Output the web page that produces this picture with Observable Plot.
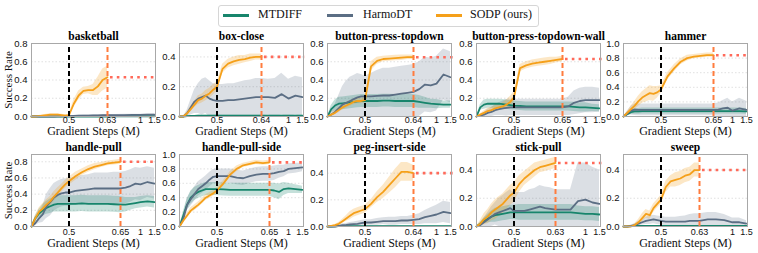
<!DOCTYPE html>
<html><head><meta charset="utf-8">
<script src="https://cdn.jsdelivr.net/npm/d3@7"></script>
<script src="https://cdn.jsdelivr.net/npm/@observablehq/plot@0.6"></script>
<style>
body{margin:0;background:#fff;}
#root{position:relative;width:758px;height:253px;overflow:hidden;background:#fff;}
.legend{position:absolute;left:218px;top:5px;width:321px;height:22px;border:1px solid #d6d6d6;border-radius:3px;box-sizing:border-box;}
.lg-line{position:absolute;top:14px;height:3px;width:26px;}
.lg-text{position:absolute;top:7px;font-family:"Liberation Serif","Times New Roman","DejaVu Serif",serif;font-size:12px;line-height:15px;color:#111;}
</style></head>
<body><div id="root"></div>
<script>
// ---------- data ----------
const tasks = ["basketball","box-close","button-press-topdown","button-press-topdown-wall","hammer",
               "handle-pull","handle-pull-side","peg-insert-side","stick-pull","sweep"];
const switchStep = [0.63,0.64,0.64,0.65,0.65,0.65,0.65,0.64,0.63,0.63]; // orange dashed line (M steps)
const yMax = [0.8,0.49,0.8,0.8,1.0,0.89,1.0,0.54,0.51,0.51];
const yTickSets = [[0,0.2,0.4,0.6,0.8],[0,0.2,0.4],[0,0.2,0.4,0.6,0.8],[0,0.2,0.4,0.6,0.8],[0,0.2,0.4,0.6,0.8,1.0],
                   [0,0.2,0.4,0.6,0.8],[0,0.2,0.4,0.6,0.8,1.0],[0,0.2,0.4],[0,0.2,0.4],[0,0.2,0.4]];
const seriesNames = ["MTDIFF","HarmoDT","SODP (ours)"];

// SODP mean / std (samples from 0 up to the switch step)
const sodpMean = [
 [0,0,0.005,0.01,0.015,0.02,0.02,0.02,0.015,0.01,0.015,0.14,0.23,0.28,0.29,0.29,0.33,0.40,0.43],
 [0,0,0.02,0.05,0.08,0.11,0.12,0.14,0.155,0.18,0.20,0.32,0.355,0.37,0.38,0.385,0.395,0.40,0.40],
 [0,0.02,0.04,0.07,0.10,0.12,0.14,0.16,0.17,0.17,0.18,0.55,0.61,0.63,0.635,0.64,0.645,0.65,0.65],
 [0,0.02,0.04,0.06,0.07,0.09,0.10,0.11,0.13,0.16,0.21,0.53,0.56,0.58,0.59,0.60,0.61,0.62,0.63],
 [0,0.05,0.10,0.15,0.21,0.26,0.29,0.32,0.31,0.33,0.37,0.55,0.66,0.75,0.80,0.82,0.83,0.84,0.84],
 [0,0.10,0.18,0.22,0.27,0.31,0.37,0.42,0.47,0.52,0.56,0.62,0.67,0.71,0.74,0.76,0.78,0.79,0.80],
 [0,0.08,0.15,0.22,0.26,0.30,0.35,0.40,0.43,0.46,0.50,0.60,0.72,0.80,0.85,0.87,0.89,0.88,0.89],
 [0,0.005,0.01,0.02,0.04,0.06,0.08,0.10,0.11,0.12,0.13,0.17,0.22,0.26,0.31,0.36,0.41,0.41,0.40],
 [0,0.02,0.05,0.07,0.10,0.12,0.14,0.16,0.19,0.22,0.24,0.30,0.34,0.37,0.40,0.42,0.43,0.44,0.45],
 [0,0,0,0.01,0.03,0.06,0.09,0.08,0.13,0.16,0.19,0.28,0.32,0.33,0.34,0.36,0.37,0.40,0.40]
];
const sodpStd = [
 [0,0.005,0.005,0.01,0.01,0.01,0.01,0.01,0.01,0.01,0.01,0.04,0.05,0.04,0.04,0.06,0.10,0.12,0.12],
 [0,0,0.01,0.02,0.02,0.03,0.03,0.035,0.035,0.035,0.03,0.03,0.03,0.03,0.03,0.025,0.025,0.02,0.02],
 [0,0.01,0.02,0.03,0.03,0.03,0.03,0.03,0.03,0.03,0.03,0.05,0.04,0.03,0.03,0.03,0.03,0.025,0.025],
 [0,0.01,0.02,0.03,0.03,0.03,0.03,0.04,0.05,0.06,0.06,0.04,0.04,0.04,0.04,0.04,0.04,0.03,0.03],
 [0,0.02,0.04,0.06,0.07,0.08,0.09,0.10,0.10,0.08,0.05,0.05,0.05,0.04,0.04,0.03,0.03,0.03,0.03],
 [0,0.03,0.05,0.06,0.06,0.06,0.06,0.06,0.05,0.05,0.05,0.05,0.04,0.04,0.04,0.03,0.03,0.03,0.03],
 [0,0.02,0.03,0.04,0.04,0.04,0.04,0.04,0.04,0.04,0.04,0.04,0.04,0.04,0.03,0.03,0.03,0.03,0.03],
 [0,0,0.005,0.01,0.015,0.02,0.03,0.03,0.03,0.03,0.03,0.03,0.04,0.05,0.06,0.07,0.07,0.07,0.06],
 [0,0.02,0.04,0.05,0.06,0.07,0.07,0.07,0.07,0.07,0.07,0.06,0.05,0.05,0.05,0.04,0.04,0.04,0.04],
 [0,0,0,0.01,0.02,0.03,0.03,0.03,0.03,0.03,0.03,0.04,0.04,0.05,0.05,0.05,0.05,0.05,0.05]
];
// MTDIFF mean / std (samples from 0 to 1.5)
const mtdiffMean = [
 [0,0,0,0,0,0,0,0,0,0,0,0,0,0,0,0,0,0,0,0.003,0.003,0.003,0.003,0.003,0.003],
 [0,0,0.003,0.004,0.004,0.005,0.005,0.005,0.005,0.005,0.005,0.005,0.005,0.005,0.005,0.005,0.005,0.005,0.005,0.006,0.006,0.006,0.006,0.006,0.006],
 [0,0.08,0.12,0.14,0.145,0.15,0.155,0.16,0.165,0.17,0.17,0.17,0.17,0.175,0.175,0.17,0.17,0.17,0.17,0.16,0.15,0.14,0.135,0.13,0.13],
 [0,0.10,0.13,0.14,0.14,0.14,0.14,0.135,0.13,0.125,0.12,0.115,0.11,0.11,0.11,0.11,0.11,0.11,0.11,0.11,0.105,0.10,0.10,0.095,0.09],
 [0,0.03,0.06,0.07,0.07,0.075,0.075,0.075,0.075,0.075,0.075,0.075,0.075,0.075,0.075,0.075,0.075,0.075,0.075,0.075,0.075,0.075,0.075,0.075,0.07],
 [0,0.10,0.16,0.20,0.23,0.25,0.27,0.28,0.28,0.28,0.28,0.28,0.285,0.28,0.28,0.28,0.28,0.275,0.27,0.27,0.28,0.29,0.30,0.31,0.30],
 [0,0.15,0.30,0.40,0.45,0.48,0.50,0.52,0.52,0.52,0.52,0.515,0.51,0.51,0.51,0.51,0.51,0.51,0.51,0.50,0.48,0.52,0.53,0.52,0.51],
 [0,0,0.002,0.003,0.003,0.003,0.003,0.003,0.003,0.003,0.003,0.003,0.003,0.003,0.003,0.003,0.003,0.003,0.003,0.003,0.003,0.003,0.003,0.003,0.003],
 [0,0.02,0.04,0.055,0.07,0.08,0.085,0.09,0.095,0.10,0.10,0.10,0.10,0.10,0.10,0.10,0.10,0.10,0.10,0.10,0.10,0.095,0.09,0.09,0.085],
 [0,0,0.003,0.004,0.004,0.004,0.004,0.004,0.004,0.004,0.004,0.004,0.004,0.004,0.004,0.004,0.004,0.004,0.004,0.004,0.004,0.004,0.004,0.004,0.004]
];
const mtdiffStd = [
 [0,0,0,0,0,0,0,0,0,0,0,0,0,0,0,0,0,0,0,0.003,0.003,0.003,0.003,0.003,0.003],
 [0,0,0.003,0.003,0.003,0.003,0.003,0.003,0.003,0.003,0.003,0.003,0.003,0.003,0.003,0.003,0.003,0.003,0.003,0.003,0.003,0.003,0.003,0.003,0.003],
 [0,0.04,0.06,0.07,0.07,0.07,0.07,0.07,0.07,0.07,0.07,0.07,0.07,0.07,0.07,0.07,0.07,0.07,0.07,0.07,0.06,0.05,0.05,0.04,0.04],
 [0,0.03,0.05,0.05,0.05,0.05,0.05,0.05,0.05,0.05,0.05,0.05,0.05,0.05,0.05,0.05,0.05,0.05,0.05,0.05,0.05,0.05,0.05,0.04,0.04],
 [0,0.02,0.03,0.04,0.04,0.04,0.04,0.04,0.04,0.04,0.04,0.04,0.04,0.04,0.04,0.04,0.04,0.04,0.04,0.04,0.04,0.04,0.04,0.04,0.04],
 [0,0.03,0.05,0.07,0.08,0.09,0.09,0.10,0.10,0.10,0.10,0.10,0.10,0.10,0.10,0.10,0.10,0.10,0.10,0.09,0.08,0.07,0.07,0.07,0.07],
 [0,0.05,0.08,0.09,0.09,0.09,0.09,0.09,0.09,0.09,0.09,0.09,0.09,0.09,0.09,0.09,0.09,0.09,0.09,0.10,0.11,0.09,0.07,0.06,0.05],
 [0,0,0.002,0.002,0.002,0.002,0.002,0.002,0.002,0.002,0.002,0.002,0.002,0.002,0.002,0.002,0.002,0.002,0.002,0.002,0.002,0.002,0.002,0.002,0.002],
 [0,0.01,0.02,0.03,0.04,0.05,0.05,0.05,0.05,0.05,0.05,0.055,0.055,0.055,0.055,0.055,0.055,0.055,0.055,0.055,0.055,0.05,0.05,0.05,0.05],
 [0,0,0.003,0.003,0.003,0.003,0.003,0.003,0.003,0.003,0.003,0.003,0.003,0.003,0.003,0.003,0.003,0.003,0.003,0.003,0.003,0.003,0.003,0.003,0.003]
];
// HarmoDT mean / std (samples from 0 to 1.5)
const harmoMean = [
 [0,0,0,0,0,0,0,0.002,0.003,0.004,0.005,0.006,0.008,0.01,0.01,0.012,0.012,0.014,0.015,0.015,0.016,0.018,0.018,0.02,0.02],
 [0,0,0.02,0.06,0.10,0.12,0.13,0.14,0.12,0.11,0.105,0.105,0.11,0.11,0.115,0.12,0.125,0.13,0.13,0.13,0.125,0.15,0.12,0.14,0.13],
 [0,0.02,0.05,0.09,0.13,0.15,0.17,0.19,0.21,0.22,0.22,0.22,0.225,0.23,0.23,0.24,0.25,0.26,0.27,0.30,0.35,0.34,0.36,0.46,0.43],
 [0,0.01,0.02,0.04,0.05,0.07,0.08,0.09,0.095,0.10,0.10,0.10,0.10,0.10,0.10,0.10,0.10,0.10,0.10,0.11,0.15,0.17,0.18,0.18,0.18],
 [0,0.04,0.08,0.095,0.09,0.09,0.09,0.09,0.09,0.09,0.09,0.09,0.09,0.09,0.09,0.09,0.09,0.09,0.09,0.095,0.11,0.12,0.08,0.11,0.09],
 [0,0.04,0.10,0.15,0.25,0.30,0.36,0.39,0.41,0.42,0.42,0.44,0.45,0.46,0.47,0.47,0.47,0.47,0.47,0.48,0.50,0.53,0.52,0.55,0.53],
 [0,0.10,0.30,0.38,0.45,0.52,0.56,0.60,0.65,0.69,0.70,0.70,0.70,0.68,0.67,0.70,0.72,0.73,0.73,0.74,0.76,0.77,0.80,0.81,0.82],
 [0,0,0,0.005,0.01,0.012,0.015,0.018,0.02,0.025,0.03,0.03,0.035,0.04,0.04,0.04,0.045,0.045,0.05,0.055,0.07,0.08,0.09,0.11,0.10],
 [0,0.01,0.03,0.05,0.07,0.09,0.10,0.11,0.12,0.13,0.11,0.11,0.11,0.12,0.13,0.14,0.13,0.125,0.12,0.12,0.12,0.18,0.19,0.17,0.16],
 [0,0,0.005,0.01,0.02,0.03,0.04,0.045,0.05,0.045,0.04,0.035,0.035,0.035,0.035,0.035,0.04,0.04,0.04,0.05,0.05,0.045,0.03,0.03,0.02]
];
const harmoStd = [
 [0,0,0,0,0,0,0,0.002,0.003,0.004,0.005,0.006,0.007,0.008,0.008,0.008,0.008,0.008,0.008,0.008,0.008,0.008,0.008,0.008,0.008],
 [0,0,0.02,0.05,0.08,0.10,0.12,0.12,0.12,0.11,0.11,0.11,0.11,0.11,0.115,0.12,0.12,0.125,0.125,0.12,0.13,0.14,0.13,0.13,0.13],
 [0,0.03,0.08,0.14,0.20,0.24,0.26,0.26,0.26,0.24,0.22,0.25,0.28,0.30,0.30,0.30,0.30,0.30,0.30,0.30,0.30,0.30,0.30,0.28,0.28],
 [0,0.01,0.02,0.04,0.05,0.06,0.07,0.08,0.09,0.09,0.09,0.09,0.09,0.09,0.09,0.09,0.09,0.09,0.09,0.10,0.13,0.14,0.14,0.14,0.13],
 [0,0.03,0.06,0.08,0.08,0.08,0.08,0.08,0.08,0.08,0.08,0.08,0.08,0.08,0.08,0.08,0.08,0.08,0.08,0.09,0.11,0.13,0.12,0.14,0.12],
 [0,0.03,0.06,0.10,0.15,0.17,0.17,0.17,0.17,0.17,0.17,0.17,0.18,0.18,0.19,0.19,0.19,0.20,0.20,0.20,0.20,0.20,0.20,0.19,0.19],
 [0,0.05,0.08,0.10,0.10,0.10,0.10,0.10,0.10,0.10,0.10,0.10,0.10,0.10,0.10,0.10,0.10,0.10,0.10,0.10,0.09,0.08,0.07,0.07,0.06],
 [0,0,0,0.005,0.01,0.01,0.015,0.015,0.02,0.02,0.02,0.02,0.025,0.025,0.03,0.03,0.03,0.03,0.035,0.04,0.05,0.06,0.07,0.08,0.08],
 [0,0.01,0.03,0.05,0.07,0.08,0.10,0.11,0.12,0.13,0.13,0.13,0.13,0.14,0.14,0.15,0.15,0.15,0.14,0.14,0.14,0.27,0.26,0.25,0.24],
 [0,0,0.005,0.01,0.015,0.02,0.025,0.03,0.03,0.03,0.03,0.03,0.03,0.03,0.035,0.04,0.045,0.05,0.05,0.05,0.05,0.04,0.03,0.03,0.02]
];

// ---------- styling / layout ----------
const COL = {mt:"#17856c", hd:"#5b6e84", sodp:"#f5a01a", dash:"#ff7c3e", dot:"#ff6a5a"};
const SERIF = "'Liberation Serif', 'Times New Roman', 'DejaVu Serif', serif";
const frameLeft = [31,179,327,476,623];
const switchPx = [76,82,86,86,90,89,90,86,79,76]; // where the switch tick sits inside the frame
const ML = 30, MR = 4, PW = 124;

// sample positions along Gradient Steps (M)
function stepGrid(v){
  const xs=[]; for(let k=0;k<10;k++) xs.push(+(k*0.05).toFixed(3));
  xs.push(0.5);
  for(let k=1;k<=8;k++) xs.push(0.5+(v-0.5)*k/8);
  for(let k=1;k<=4;k++) xs.push(v+(1-v)*k/4);
  xs.push(1.25,1.5); return xs;
}
function rows(xs, mean, sd){
  return mean.map((m,i)=>({x:xs[i], y:m, lo:Math.max(0,m-sd[i]), hi:m+sd[i]}));
}

const root = document.getElementById("root");
// legend
const lg = document.createElement("div"); lg.className="legend"; root.appendChild(lg);
const lgPos = [[223,258],[327,363],[436,470]];
[COL.mt,COL.hd,COL.sodp].forEach((c,i)=>{
  const l=document.createElement("div"); l.className="lg-line"; l.style.left=lgPos[i][0]+"px"; l.style.background=c; root.appendChild(l);
  const t=document.createElement("div"); t.className="lg-text"; t.style.left=lgPos[i][1]+"px"; t.textContent=seriesNames[i]; root.appendChild(t);
});

tasks.forEach((task,i)=>{
  const row = Math.floor(i/5), col = i%5;
  const v = switchStep[i];
  const xs = stepGrid(v);
  const sod = rows(xs, sodpMean[i], sodpStd[i]);
  const mt = rows(xs, mtdiffMean[i], mtdiffStd[i]);
  const hd = rows(xs, harmoMean[i], harmoStd[i]);
  const final = sodpMean[i][sodpMean[i].length-1];
  const MT = 20, PH = row===0?73:72, MB = row===0?22:26;
  // piecewise axis: gradient steps -> position inside the frame
  const warp = d3.scaleLinear().domain([0,0.5,v,1,1.5]).range([0,37.5,switchPx[i],109,123]);
  const xTicks = [0.5, v, 1, 1.5];
  const tickPos = xTicks.map(warp);
  const tickLabel = new Map(tickPos.map((p,k)=>[p, String(xTicks[k])]));
  const grid = {stroke:"#bdbdbd", strokeOpacity:0.8, strokeWidth:0.6, strokeDasharray:"1.5,2"};
  const marks = [
    Plot.gridY(yTickSets[i], grid),
    Plot.gridX(tickPos.slice(0,3), grid),
    Plot.areaY(hd, {x:"x", y1:"lo", y2:"hi", fill:COL.hd, fillOpacity:0.22}),
    Plot.areaY(mt, {x:"x", y1:"lo", y2:"hi", fill:COL.mt, fillOpacity:0.25}),
    Plot.areaY(sod, {x:"x", y1:"lo", y2:"hi", fill:COL.sodp, fillOpacity:0.25}),
    Plot.line(mt, {x:"x", y:"y", stroke:COL.mt, strokeWidth:1.8}),
    Plot.line(hd, {x:"x", y:"y", stroke:COL.hd, strokeWidth:1.8}),
    Plot.line(sod, {x:"x", y:"y", stroke:COL.sodp, strokeWidth:1.8}),
    Plot.ruleX([0.5], {y1:0, y2:yMax[i], stroke:"#000", strokeWidth:2, strokeDasharray:"5,3"}),
    Plot.ruleX([v], {y1:0, y2:yMax[i], stroke:COL.dash, strokeWidth:2, strokeDasharray:"5,3"}),
    Plot.ruleY([final], {x1:v, x2:1.5, stroke:COL.dot, strokeWidth:2.6, strokeDasharray:"2.6,4.2", dx:3}),
    Plot.frame({stroke:"#a8a8a8", strokeWidth:1}),
    Plot.axisX({ticks:tickPos, tickSize:0, tickPadding: row===0?0:2, tickFormat:d=>tickLabel.get(d), label:null, fontSize:9, fill:"#111"}),
    Plot.axisY({ticks:yTickSets[i], tickSize:0, tickPadding:4, tickFormat:d=>d.toFixed(1), label:null, fontSize:9.5, fill:"#111"}),
    Plot.text([task], {text:d=>d, frameAnchor:"top", lineAnchor:"middle", textAnchor:"middle", dy:-7, fontFamily:SERIF, fontWeight:"bold", fontSize:11.5, fill:"#000"}),
    Plot.text(["Gradient Steps (M)"], {text:d=>d, frameAnchor:"bottom", lineAnchor:"middle", textAnchor:"middle", dy: row===0?15:17, fontFamily:SERIF, fontSize:12, fill:"#111"})
  ];
  if (col===0) marks.push(Plot.text(["Success Rate"], {text:d=>d, frameAnchor:"left", lineAnchor:"middle", textAnchor:"middle", dx:-23, rotate:-90, fontFamily:SERIF, fontSize:11, fill:"#111"}));
  const svg = Plot.plot({
    width: ML+PW+MR, height: MT+PH+MB,
    marginLeft: ML, marginRight: MR, marginTop: MT, marginBottom: MB,
    style:{fontFamily:"Liberation Sans", fontSize:"10px", background:"transparent", overflow:"visible", maxWidth:"none"},
    x:{transform: warp, domain:[0,PW]},
    y:{domain:[0,yMax[i]]},
    marks
  });
  svg.style.position="absolute";
  svg.style.left = (frameLeft[col]-ML)+"px";
  svg.style.top = (row===0 ? 43-MT : 154-MT)+"px";
  root.appendChild(svg);
});
</script></body></html>
